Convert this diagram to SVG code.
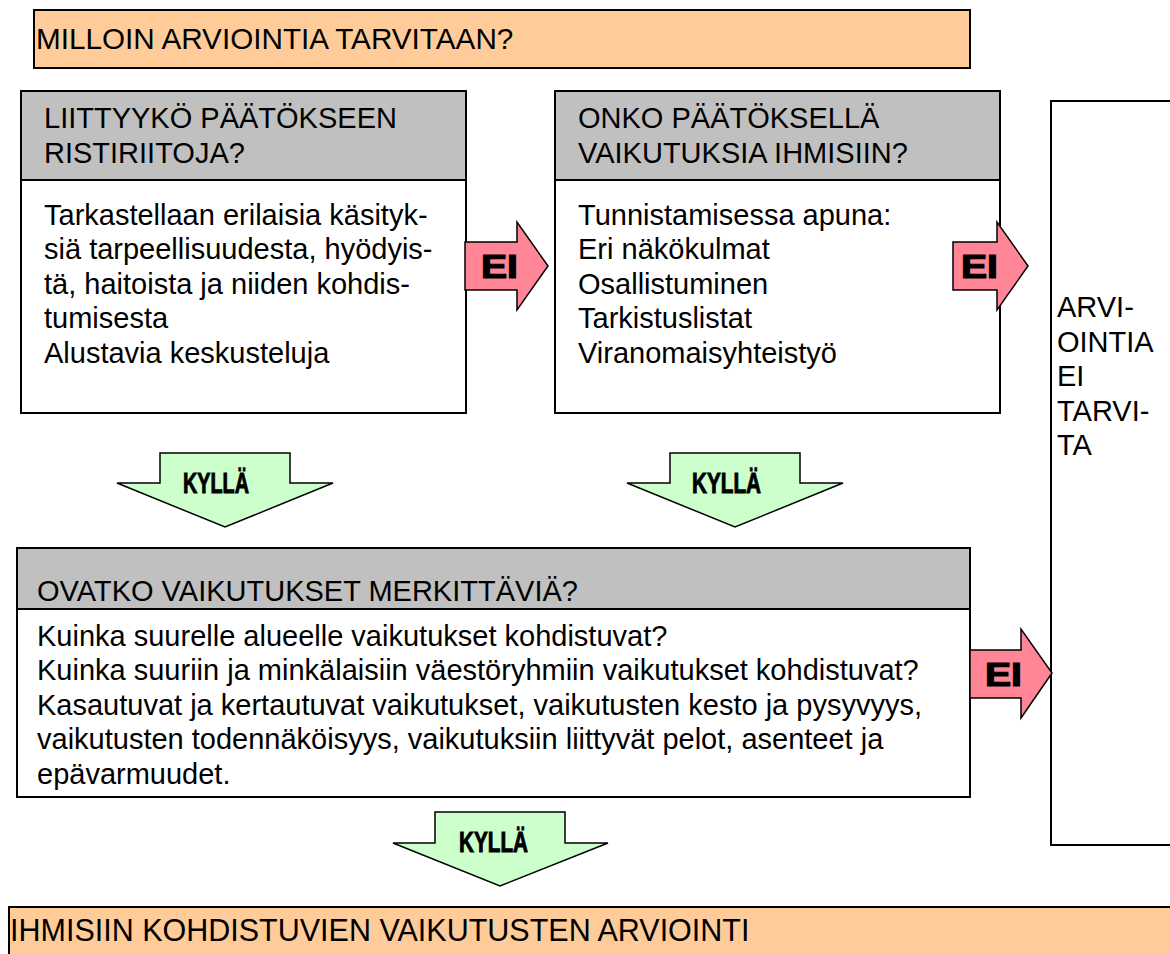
<svg xmlns="http://www.w3.org/2000/svg" width="1170" height="954" viewBox="0 0 1170 954">
<style>
.t{font-family:"Liberation Sans",Arial,sans-serif;font-size:29px;fill:#000}
.box{stroke:#000;stroke-width:2}
.peach{fill:#FFCC99}
.gray{fill:#C0C0C0}
.white{fill:#FFFFFF}
.no{fill:#FF8597;stroke:#000;stroke-width:1.5;stroke-linejoin:miter}
.yes{fill:#CCFFCC;stroke:#000;stroke-width:1.5;stroke-linejoin:miter}
.ei{font-family:"Liberation Sans",Arial,sans-serif;font-weight:bold;font-size:33px;fill:#000;stroke:#000;stroke-width:1.2}
.ky{font-family:"Liberation Sans",Arial,sans-serif;font-weight:bold;font-size:29px;fill:#000;stroke:#000;stroke-width:1}
</style>
<rect width="1170" height="954" fill="#fff"/>

<g id="top">
<rect class="box peach" x="34" y="10" width="936" height="58"/>
<text class="t" x="36" y="49" style="font-size:29.7px">MILLOIN ARVIOINTIA TARVITAAN?</text>
</g>

<g id="node1">
<rect class="box gray" x="21" y="91" width="445" height="89"/>
<rect class="box white" x="21" y="180" width="445" height="233"/>
<text class="t" x="44" y="128">LIITTYYKÖ PÄÄTÖKSEEN</text>
<text class="t" x="44" y="163">RISTIRIITOJA?</text>
<text class="t" x="44" y="225">Tarkastellaan erilaisia käsityk-</text>
<text class="t" x="44" y="259">siä tarpeellisuudesta, hyödyis-</text>
<text class="t" x="44" y="294">tä, haitoista ja niiden kohdis-</text>
<text class="t" x="44" y="328">tumisesta</text>
<text class="t" x="44" y="363">Alustavia keskusteluja</text>
</g>

<g id="node2">
<rect class="box gray" x="555" y="91" width="445" height="89"/>
<rect class="box white" x="555" y="180" width="445" height="233"/>
<text class="t" x="578" y="128">ONKO PÄÄTÖKSELLÄ</text>
<text class="t" x="578" y="163">VAIKUTUKSIA IHMISIIN?</text>
<text class="t" x="578" y="225">Tunnistamisessa apuna:</text>
<text class="t" x="578" y="259">Eri näkökulmat</text>
<text class="t" x="578" y="294">Osallistuminen</text>
<text class="t" x="578" y="328">Tarkistuslistat</text>
<text class="t" x="578" y="363">Viranomaisyhteistyö</text>
</g>

<g id="node3">
<rect class="box white" x="1051" y="101" width="130" height="744"/>
<text class="t" x="1057" y="317">ARVI-</text>
<text class="t" x="1057" y="352">OINTIA</text>
<text class="t" x="1057" y="386">EI</text>
<text class="t" x="1057" y="421">TARVI-</text>
<text class="t" x="1057" y="455">TA</text>
</g>

<g id="node4">
<rect class="box gray" x="17" y="548" width="953" height="61"/>
<rect class="box white" x="17" y="609" width="953" height="188"/>
<text class="t" x="37" y="601">OVATKO VAIKUTUKSET MERKITTÄVIÄ?</text>
<text class="t" x="37" y="646">Kuinka suurelle alueelle vaikutukset kohdistuvat?</text>
<text class="t" x="37" y="680">Kuinka suuriin ja minkälaisiin väestöryhmiin vaikutukset kohdistuvat?</text>
<text class="t" x="37" y="715">Kasautuvat ja kertautuvat vaikutukset, vaikutusten kesto ja pysyvyys,</text>
<text class="t" x="37" y="749">vaikutusten todennäköisyys, vaikutuksiin liittyvät pelot, asenteet ja</text>
<text class="t" x="37" y="784">epävarmuudet.</text>
</g>

<g id="node5">
<rect class="box peach" x="9" y="907" width="1170" height="60"/>
<text class="t" x="10" y="941" style="font-size:30.5px">IHMISIIN KOHDISTUVIEN VAIKUTUSTEN ARVIOINTI</text>
</g>

<g id="connectors">
<g id="ei1">
<polygon class="no" points="465,242 517,242 517,222 548,266 517,310 517,290 465,290"/>
<text class="ei" x="481" y="278" textLength="37" lengthAdjust="spacingAndGlyphs">EI</text>
</g>
<g id="ei2">
<polygon class="no" points="953,242 997,242 997,222 1028,266 997,310 997,290 953,290"/>
<text class="ei" x="961" y="278" textLength="37" lengthAdjust="spacingAndGlyphs">EI</text>
</g>
<g id="ei3">
<polygon class="no" points="970,650 1021,650 1021,629 1052,673 1021,718 1021,698 970,698"/>
<text class="ei" x="985" y="686" textLength="37" lengthAdjust="spacingAndGlyphs">EI</text>
</g>
<g id="kylla1">
<polygon class="yes" points="160,453 290,453 290,483 333,483 225,527 117,483 160,483"/>
<text class="ky" x="183" y="493" textLength="66" lengthAdjust="spacingAndGlyphs">KYLLÄ</text>
</g>
<g id="kylla2">
<polygon class="yes" points="670,453 800,453 800,483 843,483 735,527 627,483 670,483"/>
<text class="ky" x="692" y="493" textLength="69" lengthAdjust="spacingAndGlyphs">KYLLÄ</text>
</g>
<g id="kylla3">
<polygon class="yes" points="435,812 565,812 565,843 608,843 500,886 393,843 435,843"/>
<text class="ky" x="459" y="852" textLength="69" lengthAdjust="spacingAndGlyphs">KYLLÄ</text>
</g>
</g>
</svg>
